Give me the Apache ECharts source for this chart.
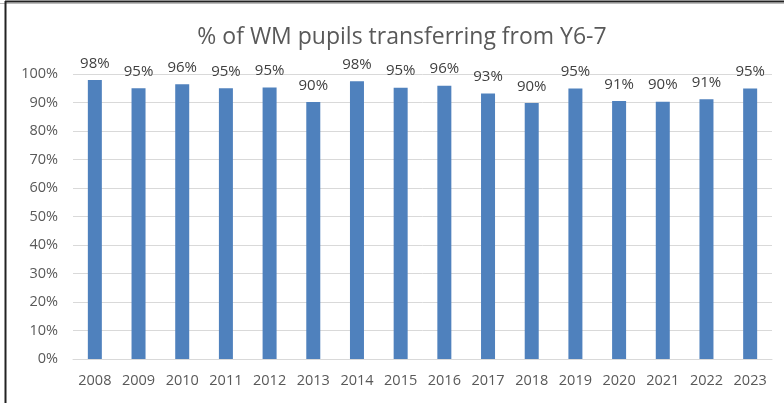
<!DOCTYPE html>
<html>
<head>
<meta charset="utf-8">
<script src="https://cdn.jsdelivr.net/npm/echarts@6/dist/echarts.min.js"></script>
<style>
  html, body { margin: 0; padding: 0; background: #fff; }
  #chart { width: 784px; height: 403px; }
</style>
</head>
<body>
<div id="chart"></div>
<script>
// years on the x axis
const years = ['2008', '2009', '2010', '2011', '2012', '2013', '2014', '2015',
  '2016', '2017', '2018', '2019', '2020', '2021', '2022', '2023']
// % of WM pupils transferring
const transferPct = [97.9, 95.0, 96.4, 95.0, 95.3, 90.2, 97.5, 95.2,
  95.9, 93.2, 89.8, 94.9, 90.5, 90.3, 91.1, 94.9]
const yTicks = [0, 10, 20, 30, 40, 50, 60, 70, 80, 90, 100]

const chart = echarts.init(document.getElementById('chart'))

const option = {
  animation: false,
  backgroundColor: '#fff',
  title: {
    text: '% of WM pupils transferring from Y6-7',
    left: 397,
    top: 21,
    textAlign: 'center',
    textStyle: {
      fontFamily: 'Open Sans',
      fontSize: 23,
      fontWeight: 'normal',
      color: '#595959'
    }
  },
  grid: {
    left: 73,
    right: 12,
    top: 74,
    bottom: 44
  },
  xAxis: {
    type: 'category',
    data: years,
    axisLine: { lineStyle: { color: '#d9d9d9' } },
    axisTick: { show: false },
    axisLabel: {
      interval: 0,
      margin: 14,
      fontFamily: 'Open Sans',
      fontSize: 14.5,
      color: '#595959'
    }
  },
  yAxis: {
    type: 'value',
    min: yTicks[0],
    max: yTicks[yTicks.length - 1],
    interval: 10,
    axisLine: { show: false },
    axisTick: { show: false },
    splitLine: { lineStyle: { color: '#d9d9d9' } },
    axisLabel: {
      margin: 15,
      fontFamily: 'Open Sans',
      fontSize: 14.5,
      color: '#595959',
      formatter: v => v + '%'
    }
  },
  series: [
    {
      type: 'bar',
      data: transferPct,
      barWidth: 14,
      itemStyle: { color: '#4f81bd' },
      label: {
        show: true,
        position: 'top',
        distance: 9,
        fontFamily: 'Open Sans',
        fontSize: 15,
        color: '#404040',
        formatter: p => Math.round(p.value) + '%'
      }
    }
  ],
  graphic: [
    // frame lines at top and left
    { type: 'line', shape: { x1: 5, y1: 1.5, x2: 784, y2: 1.5 }, style: { stroke: '#222', lineWidth: 2 } },
    { type: 'line', shape: { x1: 0, y1: 3.5, x2: 784, y2: 3.5 }, style: { stroke: '#bbb', lineWidth: 1 } },
    { type: 'line', shape: { x1: 5.5, y1: 1, x2: 5.5, y2: 403 }, style: { stroke: '#222', lineWidth: 2 } }
  ]
}

chart.setOption(option)
</script>
</body>
</html>
